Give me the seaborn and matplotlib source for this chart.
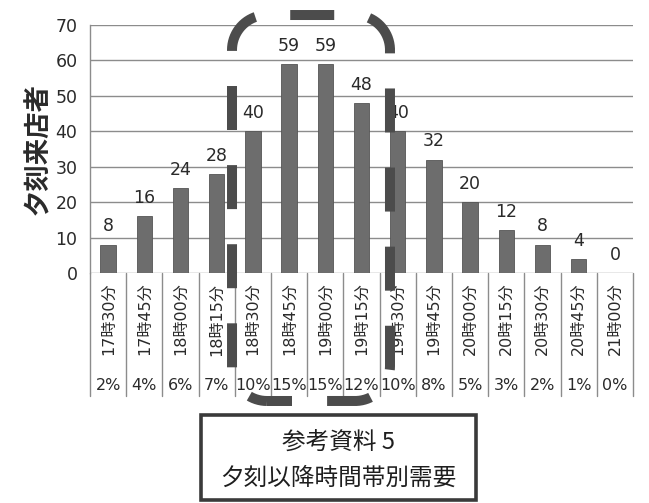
import matplotlib
matplotlib.use("Agg")
import matplotlib.pyplot as plt
from matplotlib.lines import Line2D
from matplotlib.patches import Rectangle
import numpy as np
import seaborn as sns
import pandas as pd

times = ["17時30分", "17時45分", "18時00分", "18時15分", "18時30分",
         "18時45分", "19時00分", "19時15分", "19時30分", "19時45分",
         "20時00分", "20時15分", "20時30分", "20時45分", "21時00分"]
visitors = [8, 16, 24, 28, 40, 59, 59, 48, 40, 32, 20, 12, 8, 4, 0]
shares = ["2%", "4%", "6%", "7%", "10%", "15%", "15%", "12%", "10%",
          "8%", "5%", "3%", "2%", "1%", "0%"]
y_label = "夕刻来店者"
note_lines = ["参考資料 5", "夕刻以降時間帯別需要"]

sns.set_theme(style="white")
# wide latin digits first, CJK glyphs fall through to Noto
plt.rcParams["font.family"] = ["DejaVu Sans", "Noto Sans CJK JP"]

text_col = "#2a2a2a"
bar_col = "#6d6d6d"
grid_col = "#8c8c8c"
dash_col = "#4c4c4c"

df = pd.DataFrame({"time": times, "visitors": visitors})

DPI = 100
fig = plt.figure(figsize=(6.49, 5.03), dpi=DPI)
ax = fig.add_axes([90 / 649, 1 - 273 / 503, (633 - 90) / 649, (273 - 25) / 503])

sns.barplot(data=df, x="time", y="visitors", color=bar_col, width=0.42,
            saturation=1, edgecolor="#555555", linewidth=0.6, ax=ax, zorder=3)

ax.set_ylim(0, 70)
ax.set_xlim(-0.5, len(times) - 0.5)
ax.set_yticks(range(0, 71, 10))
ax.yaxis.grid(True, color=grid_col, linewidth=1.0, zorder=0)
ax.set_axisbelow(True)
for name, s in ax.spines.items():
    s.set_visible(name == "left")
ax.spines["left"].set_color(grid_col)
ax.spines["left"].set_linewidth(1.0)

ax.set_xlabel("")
ax.set_ylabel(y_label, fontsize=19, fontweight="bold", color=text_col,
              family=["Noto Sans CJK JP"], labelpad=2)
ax.tick_params(axis="y", labelsize=12.5, colors=text_col, length=5, color=grid_col, pad=4)
ax.tick_params(axis="x", labelsize=11.5, colors=text_col, length=0, pad=7)
for lbl in ax.get_xticklabels():
    lbl.set_rotation(90)
    lbl.set_va("top")

# value labels on the bars
for i, v in enumerate(visitors):
    ax.text(i, v + 2.6, f"{v}", ha="center", va="bottom", fontsize=12.5,
            color=text_col, zorder=4)

# category table below the axis: separators and share row
xt = ax.get_xaxis_transform()
for b in range(len(times) + 1):
    ax.plot([b - 0.5, b - 0.5], [0, -0.495], transform=xt, color=grid_col,
            linewidth=1.0, clip_on=False, zorder=1)
for i, s in enumerate(shares):
    ax.text(i, -0.452, s, transform=xt, ha="center", va="center",
            fontsize=11.5, color=text_col)


def rounded_outline(x0, y0, x1, y1, r, n=40):
    """Closed outline of a rounded rectangle, starting right of the
    lower-left corner and running counter-clockwise (pixel units, y up)."""
    def arc(cx, cy, a0, a1):
        t = np.radians(np.linspace(a0, a1, n))
        return np.c_[cx + r * np.cos(t), cy + r * np.sin(t)]
    pts = [np.array([[x0 + r, y0], [x1 - r, y0]]),
           arc(x1 - r, y0 + r, -90, 0),
           np.array([[x1, y1 - r]]),
           arc(x1 - r, y1 - r, 0, 90),
           np.array([[x0 + r, y1]]),
           arc(x0 + r, y1 - r, 90, 180),
           np.array([[x0, y0 + r]]),
           arc(x0 + r, y0 + r, 180, 270)]
    return np.vstack(pts)


# highlighted peak period: dashed rounded frame (pixel geometry)
H = 503
outline = rounded_outline(232, H - 401, 390, H - 15, 35) / DPI
lw = 7.2
px = 72 / DPI / lw   # pixels -> dash units (scaled by line width)
frame = Line2D(outline[:, 0], outline[:, 1], transform=fig.dpi_scale_trans,
               color=dash_col, linewidth=lw,
               linestyle=(19 * px, (44 * px, 35.1 * px)),
               dash_capstyle="butt", zorder=10)
fig.add_artist(frame)

# note box at the bottom
note = Rectangle((2.01, 0.03), 2.75, 0.85, transform=fig.dpi_scale_trans,
                 fill=True, facecolor="white", edgecolor="#3a3a3a", linewidth=2.6)
fig.add_artist(note)
fig.text(338 / 649, 1 - 443 / 503, note_lines[0], ha="center", va="center",
         fontsize=17, color="#1e1e1e", family=["Noto Sans CJK JP"])
fig.text(338 / 649, 1 - 478 / 503, note_lines[1], ha="center", va="center",
         fontsize=17, color="#1e1e1e", family=["Noto Sans CJK JP"])

fig.savefig("out.png", dpi=DPI, facecolor="white")
